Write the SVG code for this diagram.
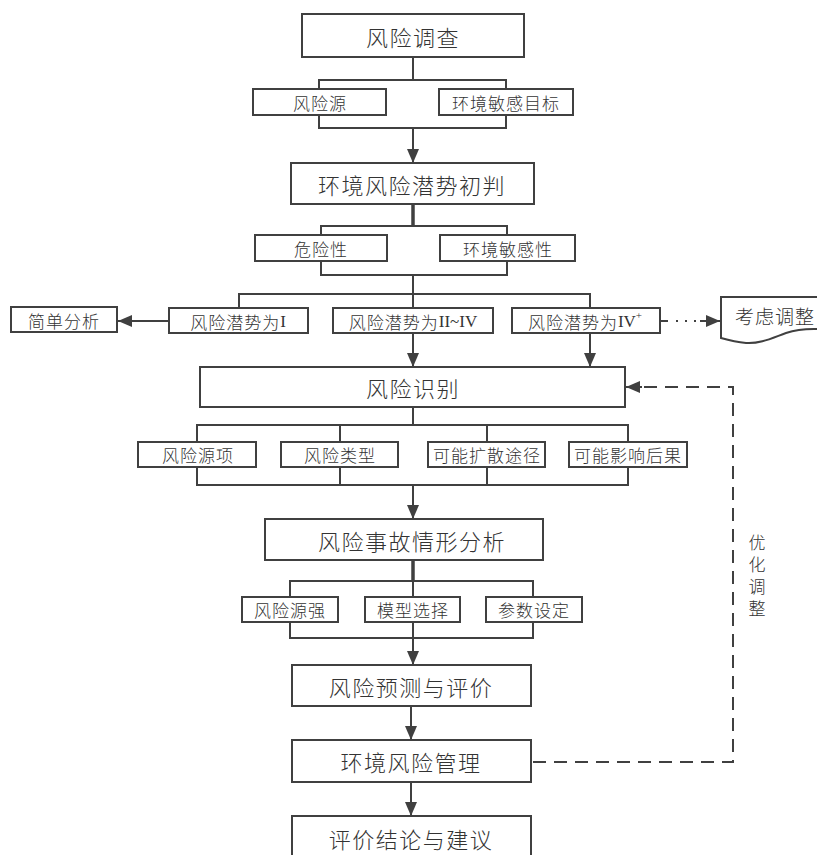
<svg xmlns="http://www.w3.org/2000/svg" width="817" height="855" viewBox="0 0 817 855">
  <defs>
    <marker id="arrow" markerWidth="14" markerHeight="12" refX="14" refY="6" orient="auto" markerUnits="userSpaceOnUse">
      <path d="M0,0 L14,6 L0,12 Z" fill="#404040"/>
    </marker>
    <style>
      .box { fill: #ffffff; stroke: #404040; stroke-width: 2; }
      .ln { fill: none; stroke: #404040; stroke-width: 2; }
      .thick { fill: none; stroke: #404040; stroke-width: 3.5; }
      .dash { fill: none; stroke: #404040; stroke-width: 2; stroke-dasharray: 13 8; }
      .t { font-family: "Noto Sans CJK SC", "Noto Sans", sans-serif; font-weight: 300; fill: #333333; text-anchor: middle; dominant-baseline: central; }
      .big { font-size: 22px; letter-spacing: 1.5px; }
      .sm { font-size: 17px; letter-spacing: 1px; }
      .rn { font-family: "Liberation Serif", "DejaVu Serif", serif; letter-spacing: 0; }
      .vert { font-family: "Noto Sans CJK SC", "Noto Sans", sans-serif; font-weight: 300; fill: #333333; font-size: 17px; letter-spacing: 5px; writing-mode: tb; }
    </style>
  </defs>

  <rect width="817" height="855" fill="#ffffff"/>

  <!-- connectors -->
  <g id="connectors">
    <!-- survey -> sources / targets bracket -->
    <line class="ln" x1="413" y1="57" x2="413" y2="80"/>
    <polyline class="ln" points="319,89 319,80 506,80 506,89"/>
    <polyline class="ln" points="319,115 319,128 506,128 506,115"/>
    <line class="ln" x1="413" y1="128" x2="413" y2="163" marker-end="url(#arrow)"/>

    <!-- preliminary judgement -> hazard / sensitivity -->
    <line class="thick" x1="413" y1="204" x2="413" y2="226"/>
    <polyline class="ln" points="321,235 321,226 507,226 507,235"/>
    <polyline class="ln" points="321,261 321,275 507,275 507,261"/>

    <!-- potential levels -->
    <line class="ln" x1="413" y1="275" x2="413" y2="308"/>
    <polyline class="ln" points="239,308 239,294 590,294 590,308"/>
    <line class="ln" x1="169" y1="321" x2="118" y2="321" marker-end="url(#arrow)"/>
    <line class="ln" x1="413" y1="333" x2="413" y2="367" marker-end="url(#arrow)"/>
    <line class="ln" x1="590" y1="333" x2="590" y2="367" marker-end="url(#arrow)"/>
    <line class="ln" x1="660" y1="321" x2="668" y2="321"/>
    <line class="ln" x1="676" y1="321" x2="697" y2="321" stroke-dasharray="2 7"/>
    <line class="ln" x1="700" y1="321" x2="720" y2="321" marker-end="url(#arrow)"/>

    <!-- identification -> four items -->
    <line class="ln" x1="413" y1="407" x2="413" y2="425"/>
    <polyline class="ln" points="197,442 197,425 628,425 628,442"/>
    <line class="ln" x1="340" y1="425" x2="340" y2="442"/>
    <line class="ln" x1="487" y1="425" x2="487" y2="442"/>
    <polyline class="ln" points="197,467 197,485 628,485 628,467"/>
    <line class="ln" x1="340" y1="467" x2="340" y2="485"/>
    <line class="ln" x1="487" y1="467" x2="487" y2="485"/>
    <line class="ln" x1="413" y1="485" x2="413" y2="519" marker-end="url(#arrow)"/>

    <!-- scenario analysis -> three items -->
    <line class="thick" x1="413" y1="560" x2="413" y2="581"/>
    <polyline class="ln" points="290,597 290,581 533,581 533,597"/>
    <line class="ln" x1="413" y1="581" x2="413" y2="597"/>
    <polyline class="ln" points="290,622 290,638 533,638 533,622"/>
    <line class="ln" x1="413" y1="622" x2="413" y2="638"/>
    <line class="ln" x1="413" y1="638" x2="413" y2="665" marker-end="url(#arrow)"/>

    <!-- lower chain -->
    <line class="ln" x1="411" y1="706" x2="411" y2="740" marker-end="url(#arrow)"/>
    <line class="ln" x1="411" y1="782" x2="411" y2="816" marker-end="url(#arrow)"/>

    <!-- feedback loop -->
    <polyline class="dash" points="533,762 733,762 733,387 642,387"/>
    <line class="ln" x1="642" y1="387" x2="626" y2="387" marker-end="url(#arrow)"/>
  </g>

  <!-- nodes -->
  <g id="n-survey">
    <rect class="box" x="302" y="14" width="222" height="43"/>
    <text class="t big" x="413" y="36">风险调查</text>
  </g>
  <g id="n-source">
    <rect class="box" x="253" y="89" width="133" height="26"/>
    <text class="t sm" x="320" y="102">风险源</text>
  </g>
  <g id="n-target">
    <rect class="box" x="439" y="89" width="134" height="26"/>
    <text class="t sm" x="506" y="102">环境敏感目标</text>
  </g>
  <g id="n-prelim">
    <rect class="box" x="291" y="163" width="243" height="41"/>
    <text class="t big" x="412" y="184">环境风险潜势初判</text>
  </g>
  <g id="n-hazard">
    <rect class="box" x="255" y="235" width="132" height="26"/>
    <text class="t sm" x="321" y="248">危险性</text>
  </g>
  <g id="n-sensitivity">
    <rect class="box" x="440" y="235" width="135" height="26"/>
    <text class="t sm" x="508" y="248">环境敏感性</text>
  </g>
  <g id="n-simple">
    <rect class="box" x="11" y="307" width="106" height="25"/>
    <text class="t sm" x="64" y="320">简单分析</text>
  </g>
  <g id="n-level1">
    <rect class="box" x="169" y="308" width="139" height="25"/>
    <text class="t sm" x="238" y="321">风险潜势为<tspan class="rn">I</tspan></text>
  </g>
  <g id="n-level2-4">
    <rect class="box" x="333" y="308" width="160" height="25"/>
    <text class="t sm" x="413" y="321">风险潜势为<tspan class="rn">II~IV</tspan></text>
  </g>
  <g id="n-level4plus">
    <rect class="box" x="512" y="308" width="148" height="25"/>
    <text class="t sm" x="585" y="321">风险潜势为<tspan class="rn">IV</tspan><tspan class="rn" font-size="11" dy="-6">+</tspan></text>
  </g>
  <g id="n-adjust">
    <path class="box" d="M721,297 L830,297 L830,330 C812,328 798,329 786,333 C772,338 760,344 746,343 C735,342 728,340 721,338 Z"/>
    <text class="t" x="775" y="315" font-size="19" letter-spacing="1">考虑调整</text>
  </g>
  <g id="n-identify">
    <rect class="box" x="200" y="367" width="425" height="40"/>
    <text class="t big" x="413" y="387">风险识别</text>
  </g>
  <g id="n-source-item">
    <rect class="box" x="138" y="442" width="118" height="25"/>
    <text class="t sm" x="198" y="454">风险源项</text>
  </g>
  <g id="n-type">
    <rect class="box" x="281" y="442" width="117" height="25"/>
    <text class="t sm" x="340" y="454">风险类型</text>
  </g>
  <g id="n-pathway">
    <rect class="box" x="428" y="442" width="117" height="25"/>
    <text class="t sm" x="487" y="454">可能扩散途径</text>
  </g>
  <g id="n-consequence">
    <rect class="box" x="569" y="442" width="118" height="25"/>
    <text class="t sm" x="628" y="454">可能影响后果</text>
  </g>
  <g id="n-scenario">
    <rect class="box" x="265" y="519" width="278" height="41"/>
    <text class="t big" x="412" y="540">风险事故情形分析</text>
  </g>
  <g id="n-strength">
    <rect class="box" x="242" y="597" width="96" height="25"/>
    <text class="t sm" x="290" y="609">风险源强</text>
  </g>
  <g id="n-model">
    <rect class="box" x="365" y="597" width="95" height="25"/>
    <text class="t sm" x="413" y="609">模型选择</text>
  </g>
  <g id="n-params">
    <rect class="box" x="486" y="597" width="96" height="25"/>
    <text class="t sm" x="534" y="609">参数设定</text>
  </g>
  <g id="n-predict">
    <rect class="box" x="292" y="665" width="239" height="41"/>
    <text class="t big" x="411" y="686">风险预测与评价</text>
  </g>
  <g id="n-manage">
    <rect class="box" x="292" y="740" width="239" height="42"/>
    <text class="t big" x="411" y="761">环境风险管理</text>
  </g>
  <g id="n-conclusion">
    <rect class="box" x="292" y="816" width="239" height="50"/>
    <text class="t big" x="411" y="838">评价结论与建议</text>
  </g>

  <!-- feedback label, set vertically -->
  <g id="feedback-label">
    <text class="vert" x="757" y="534">优化调整</text>
  </g>
</svg>
